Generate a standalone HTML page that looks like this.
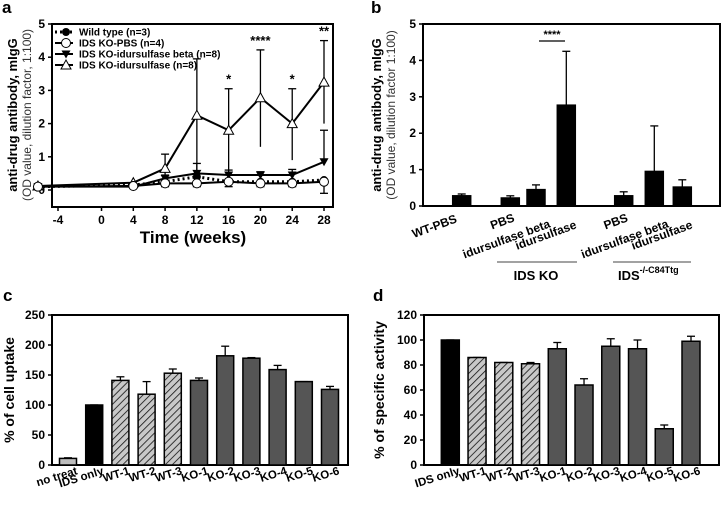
<!DOCTYPE html>
<html><head><meta charset="utf-8"><style>
html,body{margin:0;padding:0;background:#fff}
svg{display:block;font-family:"Liberation Sans",Arial,sans-serif}
</style></head><body>
<svg id="fig" width="722" height="506" viewBox="0 0 722 506">
<defs>
<pattern id="hatch" patternUnits="userSpaceOnUse" width="5" height="5" patternTransform="rotate(45)">
<rect width="5" height="5" fill="#c8c8c8"/><line x1="0" y1="0" x2="0" y2="5" stroke="#111" stroke-width="1.6"/>
</pattern>
</defs>
</svg>
<script>
// ---------- data ----------
const weeksA = [-8, 4, 8, 12, 16, 20, 24, 28];
const wtA = [0.1, 0.15, 0.25, 0.4, 0.25, 0.25, 0.25, 0.3];
const pbsA = [0.1, 0.12, 0.2, 0.2, 0.25, 0.2, 0.2, 0.25];
const betaA = [0.1, 0.1, 0.35, 0.5, 0.45, 0.45, 0.45, 0.85];
const betaErrA = [0.1, 0.1, 0.45, 0.8, 0.6, 0.55, 0.62, 1.8];
const idurA = [0.12, 0.22, 0.65, 2.25, 1.8, 2.78, 2.0, 3.25];
const idurErrHiA = [0.12, 0.25, 1.08, 3.95, 3.05, 4.22, 3.05, 4.5];
const idurErrLoA = [0.12, 0.2, 0.3, 0.5, 0.6, 1.3, 0.9, 2.0];
const pbsErrLoA = [0.1, 0.1, 0.1, 0.1, 0.1, 0.1, 0.1, -0.1];
const starsA = ["", "", "", "", "*", "****", "*", "**"];
const xTicksA = [-4, 0, 4, 8, 12, 16, 20, 24, 28];
const yTicksAB = [0, 1, 2, 3, 4, 5];

const catsB = ["WT-PBS", "PBS", "idursulfase beta", "idursulfase", "PBS", "idursulfase beta", "idursulfase"];
const valsB = [0.28, 0.22, 0.45, 2.77, 0.28, 0.95, 0.52];
const errB = [0.33, 0.28, 0.58, 4.25, 0.39, 2.2, 0.72];

const catsC = ["no treat", "IDS only", "WT-1", "WT-2", "WT-3", "KO-1", "KO-2", "KO-3", "KO-4", "KO-5", "KO-6"];
const valsC = [11, 100, 141, 118, 153, 141, 182, 178, 159, 139, 126];
const errC = [12, 100, 147, 139, 160, 145, 198, 179, 166, 139, 131];
const yTicksC = [0, 50, 100, 150, 200, 250];

const catsD = ["IDS only", "WT-1", "WT-2", "WT-3", "KO-1", "KO-2", "KO-3", "KO-4", "KO-5", "KO-6"];
const valsD = [100, 86, 82, 81, 93, 64, 95, 93, 29, 99];
const errD = [100, 86, 82, 82, 98, 69, 101, 100, 32, 103];
const yTicksD = [0, 20, 40, 60, 80, 100, 120];

// ---------- helpers ----------
const NS = "http://www.w3.org/2000/svg";
const svg = document.getElementById("fig");
function mk(tag, attrs, parent, text) {
  const e = document.createElementNS(NS, tag);
  for (const k in attrs) e.setAttribute(k, attrs[k]);
  if (text !== undefined) e.textContent = text;
  (parent || svg).appendChild(e);
  return e;
}
function linear(d0, d1, r0, r1) { return v => r0 + (v - d0) * (r1 - r0) / (d1 - d0); }
function frame(g, x0, y0, x1, y1) {
  const r = mk("rect", {x: x0, y: y0, width: x1 - x0, height: y1 - y0, fill: "none", stroke: "#000", "stroke-width": 2}, g);
  
  
}
function yAxis(g, ticks, ys, x0) {
  ticks.forEach(t => {
    const l = mk("line", {x1: x0 - 4, x2: x0, y1: ys(t), y2: ys(t), stroke: "#000", "stroke-width": 1.5}, g);
    
    
    const tx = mk("text", {x: x0 - 7, y: ys(t) + 4, "text-anchor": "end", "font-size": 12, "font-weight": "bold"}, g, t);
    
    
  });
}
function errBar(g, x, yTop, yBase, w) {
  const l = mk("line", {x1: x, x2: x, y1: yTop, y2: yBase, stroke: "#000", "stroke-width": 1.3}, g);
  
  
  const c = mk("line", {x1: x - w, x2: x + w, y1: yTop, y2: yTop, stroke: "#000", "stroke-width": 1.3}, g);
  
  
}
function panelLabel(t, x, y) {
  const e = mk("text", {x: x, y: y, "font-size": 17, "font-weight": "bold"}, svg, t);
  
  
}
function yTitle(g, cx, cy, lines) {
  lines.forEach((ln, i) => {
    const e = mk("text", {x: 0, y: 0, transform: `translate(${ln.x},${cy}) rotate(-90)`, "text-anchor": "middle",
      "font-size": ln.size, "font-weight": ln.bold ? "bold" : "normal", fill: ln.bold ? "#000" : "#333"}, g, ln.t);
    
    
  });
}
function rotLabel(g, x, y, t, ang, size) {
  const e = mk("text", {x: 0, y: 0, transform: `translate(${x},${y}) rotate(${ang})`, "text-anchor": "end", "font-size": size || 12, "font-weight": "bold"}, g, t);
  
  
}

// ---------- panel a ----------
(function () {
  const g = mk("g", {});  
  panelLabel("a", 2, 13);
  const xs = linear(4, 28, 133.3, 324), ys = linear(0, 5, 190, 24);
  frame(g, 52, 24, 333, 207);
  yAxis(g, yTicksAB, ys, 52);
  xTicksA.forEach(t => {
    const x = t === -4 ? 58 : xs(t);
    const l = mk("line", {x1: x, x2: x, y1: 207, y2: 211, stroke: "#000", "stroke-width": 1.5}, g);
     
    const e = mk("text", {x: x, y: 224, "text-anchor": "middle", "font-size": 12, "font-weight": "bold"}, g, t);
     
  });
  const xt = mk("text", {x: 193, y: 243, "text-anchor": "middle", "font-size": 17, "font-weight": "bold"}, g, "Time (weeks)");
   
  yTitle(g, 0, 115, [{x: 17, t: "anti-drug antibody, mIgG", size: 13, bold: true}, {x: 31, t: "(OD value, dilution factor, 1:100)", size: 12}]);
  weeksA.forEach((w, i) => {
    if (i > 1) {
      errBar(g, xs(w), ys(idurErrHiA[i]), ys(idurErrLoA[i]), 4);
      errBar(g, xs(w), ys(betaErrA[i]), ys(betaA[i]), 4);
      errBar(g, xs(w), ys(pbsErrLoA[i]), ys(pbsA[i]), 4);
    }
    if (starsA[i]) {
      const s = mk("text", {x: xs(w), y: ys(idurErrHiA[i]) - 5, "text-anchor": "middle", "font-size": 13, "font-weight": "bold"}, g, starsA[i]);
       
    }
  });
  function path(vals, dash, name) {
    const d = vals.map((v, i) => (i ? "L" : "M") + xs(weeksA[i]) + "," + ys(v)).join(" ");
    const p = mk("path", {d: d, fill: "none", stroke: "#000", "stroke-width": dash ? 3 : 2, "stroke-dasharray": dash ? "2,3" : "none"}, g);
     
  }
  path(idurA, false, 'idursulfase-line');
  path(betaA, false, 'idursulfase-beta-line');
  path(pbsA, false, 'pbs-line');
  path(wtA, true, 'wild-type-line');
  function marker(type, x, y, name) {
    let e;
    if (type === "fc") e = mk("circle", {cx: x, cy: y, r: 4, fill: "#000"}, g);
    if (type === "oc") e = mk("circle", {cx: x, cy: y, r: 4.5, fill: "#fff", stroke: "#000", "stroke-width": 1}, g);
    if (type === "dt") e = mk("path", {d: `M${x - 4.5},${y - 3.5} L${x + 4.5},${y - 3.5} L${x},${y + 4.5}Z`, fill: "#000"}, g);
    if (type === "ut") e = mk("path", {d: `M${x - 5},${y + 4} L${x + 5},${y + 4} L${x},${y - 5}Z`, fill: "#fff", stroke: "#000", "stroke-width": 1}, g);
     
  }
  weeksA.forEach((w, i) => {
    marker("ut", xs(w), ys(idurA[i]), 'idursulfase-point');
    marker("dt", xs(w), ys(betaA[i]), 'idursulfase-beta-point');
    marker("fc", xs(w), ys(wtA[i]), 'wild-type-point');
    marker("oc", xs(w), ys(pbsA[i]), 'pbs-point');
  });
  const leg = [["fc", "Wild type (n=3)", true], ["oc", "IDS KO-PBS (n=4)"], ["dt", "IDS KO-idursulfase beta (n=8)"], ["ut", "IDS KO-idursulfase (n=8)"]];
  leg.forEach((L, i) => {
    const y = 32 + i * 11;
    const ln = mk("line", {x1: 55, x2: 73, y1: y, y2: y, stroke: "#000", "stroke-width": L[2] ? 3 : 2, "stroke-dasharray": L[2] ? "2,3" : "none"}, g);
     
    marker(L[0], 66, y, 'legend-marker');
    const t = mk("text", {x: 79, y: y + 3.5, "font-size": 10, "font-weight": "bold"}, g, L[1]);
     
  });
})();

// ---------- generic bar panel ----------
function barPanel(opts) {
  const g = mk("g", {});  
  const ys = linear(opts.ymin, opts.ymax, opts.y1, opts.y0);
  frame(g, opts.x0, opts.y0, opts.x1, opts.y1);
  yAxis(g, opts.ticks, ys, opts.x0);
  opts.cats.forEach((c, i) => {
    const cx = opts.xs(i), w = opts.bw;
    errBar(g, cx, ys(opts.err[i]), ys(opts.vals[i]), 4);
    const r = mk("rect", {x: cx - w / 2, y: ys(opts.vals[i]), width: w, height: ys(opts.ymin) - ys(opts.vals[i]), fill: opts.fill(c, i), stroke: "#000", "stroke-width": 1.5}, g);
    
    
    const off = opts.labelOff(c, i);
    rotLabel(g, cx + off[0], opts.y1 + off[1], c, opts.ang, opts.fs);
  });
  return {g, ys};
}

// ---------- panel b ----------
(function () {
  panelLabel("b", 371, 13);
  const centers = [461.7, 510.3, 536, 566.3, 623.7, 654.3, 682.3];
  const {g, ys} = barPanel({name: 'panel-b-bar-chart', x0: 423, x1: 720, y0: 24, y1: 206, ymin: 0, ymax: 5, ticks: yTicksAB,
    cats: catsB, vals: valsB, err: errB, bw: 18, xs: i => centers[i], fill: () => "#000", ang: -20, fs: 12,
    labelOff: (c, i) => i === 0 ? [-4, 16] : c === "PBS" ? [5, 15] : c === "idursulfase beta" ? [15, 21] : [11, 22]});
  yTitle(g, 0, 115, [{x: 381, t: "anti-drug antibody, mIgG", size: 13, bold: true}, {x: 395, t: "(OD value, dilution factor 1:100)", size: 12}]);
  const sl = mk("line", {x1: 539, x2: 565, y1: 41, y2: 41, stroke: "#000", "stroke-width": 1.3}, g);
   
  const st = mk("text", {x: 552, y: 38, "text-anchor": "middle", "font-size": 11, "font-weight": "bold"}, g, "****");
   
  [[497, 577, 536, "IDS KO", 'group-label-ids-ko'], [613, 691, 618, "IDS", 'group-label-ids-c84ttg']].forEach(G => {
    const l = mk("line", {x1: G[0], x2: G[1], y1: 262, y2: 262, stroke: "#444", "stroke-width": 1}, g);
     
    const t = mk("text", {x: G[2], y: 280, "text-anchor": G[3] === "IDS" ? "start" : "middle", "font-size": 13, "font-weight": "bold"}, g, G[3]);
     
    if (G[3] === "IDS") mk("tspan", {dy: -7, "font-size": 9}, t, "-/-C84Ttg");
  });
})();

// ---------- panel c ----------
(function () {
  panelLabel("c", 3, 301);
  const xs = linear(0, 10, 68, 330);
  const {g} = barPanel({name: 'panel-c-bar-chart', x0: 52, x1: 348, y0: 315, y1: 465, ymin: 0, ymax: 250, ticks: yTicksC,
    cats: catsC, vals: valsC, err: errC, bw: 17, xs: xs,
    fill: (c, i) => i === 0 ? "#bdbdbd" : i === 1 ? "#000" : c.startsWith("WT") ? "url(#hatch)" : "#555", ang: -17, fs: 11.5,
    labelOff: () => [10, 9]});
  yTitle(g, 0, 390, [{x: 14, t: "% of cell uptake", size: 14, bold: true}]);
})();

// ---------- panel d ----------
(function () {
  panelLabel("d", 373, 301);
  const xs = linear(0, 9, 450.3, 691);
  const {g} = barPanel({name: 'panel-d-bar-chart', x0: 424, x1: 719, y0: 315, y1: 465, ymin: 0, ymax: 120, ticks: yTicksD,
    cats: catsD, vals: valsD, err: errD, bw: 18, xs: xs,
    fill: (c, i) => i === 0 ? "#000" : c.startsWith("WT") ? "url(#hatch)" : "#555", ang: -17, fs: 11.5,
    labelOff: () => [10, 9]});
  yTitle(g, 0, 390, [{x: 384, t: "% of specific activity", size: 14, bold: true}]);
})();
</script>
</body></html>
